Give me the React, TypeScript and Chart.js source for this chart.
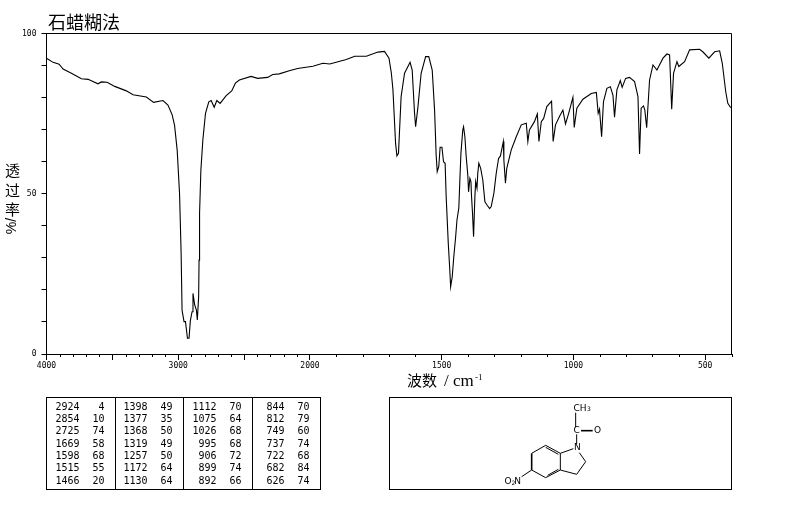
import React, { useEffect, useRef } from "react";
import { Chart, registerables } from "chart.js";

Chart.register(...registerables);

const titleText = "石蜡糊法";
const xAxisName = "波数";
const xAxisSlash = "/";
const xAxisUnit = "cm";
const xAxisExponent = "-1";
const yAxisChars = ["透", "过", "率"];
const yAxisUnit = "%/";

const wavenumbers = [
  4000, 3950, 3904, 3874, 3811, 3735, 3684, 3609, 3583, 3540, 3482, 3394, 3343, 3242, 3187, 3116, 3078, 3046, 3028, 3008,
  2990, 2978, 2971, 2956, 2945, 2930, 2918, 2908, 2895, 2888, 2875, 2862, 2855, 2845, 2842, 2838, 2828, 2813, 2793, 2768,
  2750, 2727, 2707, 2682, 2636, 2594, 2566, 2536, 2447, 2397, 2321, 2283, 2233, 2157, 2094, 1989, 1951, 1925, 1862, 1830,
  1786, 1742, 1717, 1700, 1691, 1685, 1675, 1670, 1664, 1654, 1641, 1620, 1612, 1603, 1599, 1590, 1578, 1561, 1549, 1536,
  1527, 1521, 1517, 1511, 1506, 1499, 1493, 1487, 1483, 1475, 1470, 1466, 1460, 1454, 1447, 1442, 1435, 1431, 1427, 1420,
  1417, 1412, 1407, 1401, 1398, 1393, 1389, 1387, 1383, 1379, 1374, 1371, 1366, 1363, 1359, 1352, 1344, 1336, 1328, 1318,
  1312, 1302, 1293, 1284, 1277, 1266, 1264, 1258, 1253, 1236, 1217, 1198, 1179, 1173, 1167, 1148, 1137, 1131, 1122, 1113,
  1101, 1083, 1077, 1068, 1053, 1040, 1030, 1018, 1002, 997, 987, 964, 932, 913, 906, 901, 893, 886, 873, 860,
  850, 844, 835, 822, 815, 802, 787, 768, 755, 749, 743, 734, 729, 722, 711, 698, 683, 660, 645, 635,
  627, 620, 607, 600, 578, 559, 521, 509, 486, 464, 445, 435, 422, 414, 404, 400,
];

const transmittance = [
  92.3, 91.0, 90.4, 88.9, 87.6, 85.9, 85.7, 84.3, 84.9, 84.8, 83.5, 82.1, 80.9, 80.2, 78.5, 79.1, 77.7, 74.6, 71.4, 63.6,
  50.1, 31.4, 13.7, 10.1, 10.1, 4.9, 4.9, 10.4, 13.2, 18.9, 15.3, 13.7, 10.6, 17.9, 29.3, 43.9, 57.4, 66.8, 75.1, 78.7,
  79.1, 77.0, 79.1, 78.2, 80.6, 82.1, 84.5, 85.5, 86.6, 86.0, 86.3, 87.2, 87.4, 88.4, 89.1, 89.8, 90.7, 90.5, 91.9, 92.9,
  92.9, 94.2, 94.4, 92.3, 87.6, 82.4, 65.7, 61.8, 62.6, 80.3, 87.6, 91.0, 88.6, 75.1, 70.9, 77.2, 87.6, 92.8, 92.8, 88.6,
  76.1, 62.0, 56.9, 58.5, 64.5, 64.5, 60.0, 59.5, 49.1, 34.5, 27.3, 21.0, 24.1, 30.4, 36.6, 41.8, 45.5, 54.3, 62.6, 69.9,
  70.9, 67.8, 61.6, 55.9, 50.6, 54.8, 53.8, 49.6, 43.9, 36.6, 49.1, 53.8, 51.7, 56.4, 59.5, 57.9, 54.3, 47.5, 46.5, 45.4,
  46.0, 50.1, 56.4, 61.0, 61.8, 66.3, 60.5, 53.3, 57.9, 63.7, 67.8, 71.5, 72.0, 66.3, 69.9, 72.5, 74.9, 66.3, 72.5, 73.5,
  77.2, 78.9, 66.3, 71.5, 74.1, 76.1, 71.8, 75.1, 80.1, 70.7, 76.7, 79.5, 81.3, 81.6, 75.1, 76.4, 67.8, 78.7, 82.9, 83.4,
  80.8, 73.9, 82.4, 85.3, 83.2, 86.0, 86.3, 85.0, 80.3, 62.4, 76.7, 77.4, 76.1, 70.6, 85.5, 90.2, 88.6, 92.3, 93.6, 93.3,
  76.4, 87.6, 91.2, 89.7, 91.2, 94.9, 95.1, 94.3, 92.3, 94.3, 94.6, 90.7, 81.9, 78.2, 77.0, 77.0,
];

const yTicks = [0, 10, 20, 30, 40, 50, 60, 70, 80, 90, 100];
const yLabels = [0, 50, 100];
const xMajorTicks = [4000, 3500, 3000, 2500, 2000, 1500, 1000, 500];
const xLabels = [4000, 3000, 2000, 1500, 1000, 500];
const xMinorTicks = [
  3900, 3800, 3700, 3600, 3400, 3300, 3200, 3100, 2900, 2800, 2700, 2600, 2400, 2300, 2200, 2100,
  1900, 1800, 1700, 1600, 1400, 1300, 1200, 1100, 900, 800, 700, 600, 400,
];

const peakColumns: [number, number][][] = [
  [[2924, 4], [2854, 10], [2725, 74], [1669, 58], [1598, 68], [1515, 55], [1466, 20]],
  [[1398, 49], [1377, 35], [1368, 50], [1319, 49], [1257, 50], [1172, 64], [1130, 64]],
  [[1112, 70], [1075, 64], [1026, 68], [995, 68], [906, 72], [899, 74], [892, 66]],
  [[844, 70], [812, 79], [749, 60], [737, 74], [722, 68], [682, 84], [626, 74]],
];

// The instrument's axis doubles its scale below 2000 cm-1.
const toAxis = (w: number) => (w >= 2000 ? 4000 - w : 2000 + (2000 - w) * 2);
const spectrum = wavenumbers.map((w, i) => ({ x: toAxis(w), y: transmittance[i] }));

const INK = "#000";
const TABLE_FONT = '10px "DejaVu Sans Mono", monospace';
const CJK = '"Noto Sans CJK SC", sans-serif';
const SERIF = '"Liberation Serif", serif';

const line = (c: CanvasRenderingContext2D, pts: number[][], width = 1) => {
  c.lineWidth = width;
  c.beginPath();
  pts.forEach(([x, y], i) => (i ? c.lineTo(x, y) : c.moveTo(x, y)));
  c.stroke();
};

const decorations = {
  id: "decorations",
  afterDraw(chart: any) {
    const c: CanvasRenderingContext2D = chart.ctx;
    const { left, right, top, bottom } = chart.chartArea;
    const xs = chart.scales.x;
    c.save();
    c.strokeStyle = INK;
    c.fillStyle = INK;

    // frame and minor ticks
    line(c, [[left, top], [right, top], [right, bottom]]);
    xMinorTicks.forEach((w) => {
      const px = Math.round(xs.getPixelForValue(toAxis(w))) + 0.5;
      line(c, [[px, bottom], [px, bottom + 3]]);
    });

    // titles
    c.textBaseline = "alphabetic";
    c.textAlign = "left";
    c.font = `18px ${CJK}`;
    c.fillText(titleText, 48, 29);
    c.font = `15px ${CJK}`;
    c.fillText(xAxisName, 407, 386);
    c.font = `17px ${SERIF}`;
    c.fillText(xAxisSlash, 444, 386);
    c.fillText(xAxisUnit, 453, 386);
    c.font = `9px ${SERIF}`;
    c.fillText(xAxisExponent, 475, 380);
    c.font = `15px ${CJK}`;
    c.textAlign = "center";
    c.textBaseline = "middle";
    yAxisChars.forEach((ch, i) => c.fillText(ch, 12.5, 170.5 + i * 19.5));
    c.save();
    c.translate(12.5, 226);
    c.rotate(-Math.PI / 2);
    c.font = '14px "Liberation Sans", sans-serif';
    c.fillText(yAxisUnit, 0, 0);
    c.restore();

    // peak table
    const tTop = 397.5;
    const tBottom = 489.5;
    const tLeft = 46.5;
    const dividers = [115.5, 183.5, 252.5, 320.5];
    const waveRight = [79.5, 147.5, 216.5, 284.5];
    const valueRight = [104.5, 172.5, 241.5, 309.5];
    c.lineWidth = 1;
    c.strokeRect(tLeft, tTop, 320.5 - tLeft, tBottom - tTop);
    dividers.slice(0, 3).forEach((x) => line(c, [[x, tTop], [x, tBottom]]));
    c.font = TABLE_FONT;
    c.textAlign = "right";
    peakColumns.forEach((rows, col) =>
      rows.forEach(([w, t], row) => {
        const y = 407 + row * 12.35;
        c.fillText(String(w), waveRight[col], y);
        c.fillText(String(t), valueRight[col], y);
      })
    );

    // structure box
    c.strokeRect(389.5, tTop, 731.5 - 389.5, tBottom - tTop);
    const P = (X: number, Y: number) => [380 + X / 3, 340 + Y / 3];
    const bond = (a: number[], b: number[], w = 1) => line(c, [P(a[0], a[1]), P(b[0], b[1])], w);
    bond([497, 316], [455, 340]);
    bond([455, 340], [455, 390], 1.6);
    bond([455, 390], [497, 413]);
    bond([497, 413], [541, 390]);
    bond([541, 390], [541, 340]);
    bond([541, 340], [497, 316]);
    bond([497, 322], [535, 343]);
    bond([503, 406], [535, 388]);
    bond([541, 340], [580, 326]);
    bond([598, 338], [617, 365]);
    bond([617, 365], [590, 403]);
    bond([590, 403], [541, 390]);
    bond([590, 312], [590, 283]);
    bond([587, 262], [587, 218]);
    bond([603, 272], [638, 272], 1.6);
    bond([455, 390], [425, 410]);
    c.textAlign = "center";
    c.font = '9px "DejaVu Sans", sans-serif';
    const label = (s: string, X: number, Y: number) => {
      const [x, y] = P(X, Y);
      c.fillText(s, x, y);
    };
    label("N", 592, 323);
    label("C", 590, 272);
    label("O", 653, 272);
    label("CH", 600, 205);
    label("O", 384, 425);
    label("N", 413, 425);
    c.font = '6px "DejaVu Sans", sans-serif';
    label("3", 627, 209);
    label("2", 400, 431);
    c.restore();
  },
};

export default function App() {
  const ref = useRef<HTMLCanvasElement>(null);
  useEffect(() => {
    document.body.style.margin = "0";
    document.body.style.background = "#fff";
    const chart = new Chart(ref.current!, {
      type: "line",
      data: {
        datasets: [
          {
            data: spectrum,
            borderColor: INK,
            borderWidth: 1.1,
            pointRadius: 0,
            tension: 0,
            fill: false,
          },
        ],
      },
      options: {
        responsive: false,
        animation: false,
        parsing: false as any,
        normalized: true,
        layout: { padding: { top: 33.5, right: 62.5, bottom: 0, left: 0 } },
        plugins: { legend: { display: false }, title: { display: false }, tooltip: { enabled: false } },
        scales: {
          x: {
            type: "linear",
            min: 0,
            max: toAxis(400),
            afterBuildTicks: (s: any) => {
              s.ticks = xMajorTicks.map((w) => ({ value: toAxis(w) }));
            },
            afterFit: (s: any) => {
              s.height = 156;
            },
            border: { display: true, color: INK, width: 1 },
            grid: { drawOnChartArea: false, drawTicks: true, tickLength: 6, tickColor: INK, tickWidth: 1 },
            ticks: {
              autoSkip: false,
              maxRotation: 0,
              padding: 1,
              color: INK,
              font: { family: '"DejaVu Sans Mono", monospace', size: 8 },
              callback: (v: any) => {
                const w = xMajorTicks.find((m) => toAxis(m) === v);
                return w !== undefined && xLabels.includes(w) ? String(w) : "";
              },
            },
          },
          y: {
            type: "linear",
            min: 0,
            max: 100,
            afterBuildTicks: (s: any) => {
              s.ticks = yTicks.map((value) => ({ value }));
            },
            afterFit: (s: any) => {
              s.width = 46.5;
            },
            border: { display: true, color: INK, width: 1 },
            grid: { drawOnChartArea: false, drawTicks: true, tickLength: 5, tickColor: INK, tickWidth: 1 },
            ticks: {
              autoSkip: false,
              padding: 5,
              color: INK,
              font: { family: '"DejaVu Sans Mono", monospace', size: 8 },
              callback: (v: any) => (yLabels.includes(v) ? String(v) : ""),
            },
          },
        },
      },
      plugins: [decorations],
    } as any);
    return () => chart.destroy();
  }, []);
  return <canvas ref={ref} width={794} height={510} style={{ display: "block" }} />;
}
